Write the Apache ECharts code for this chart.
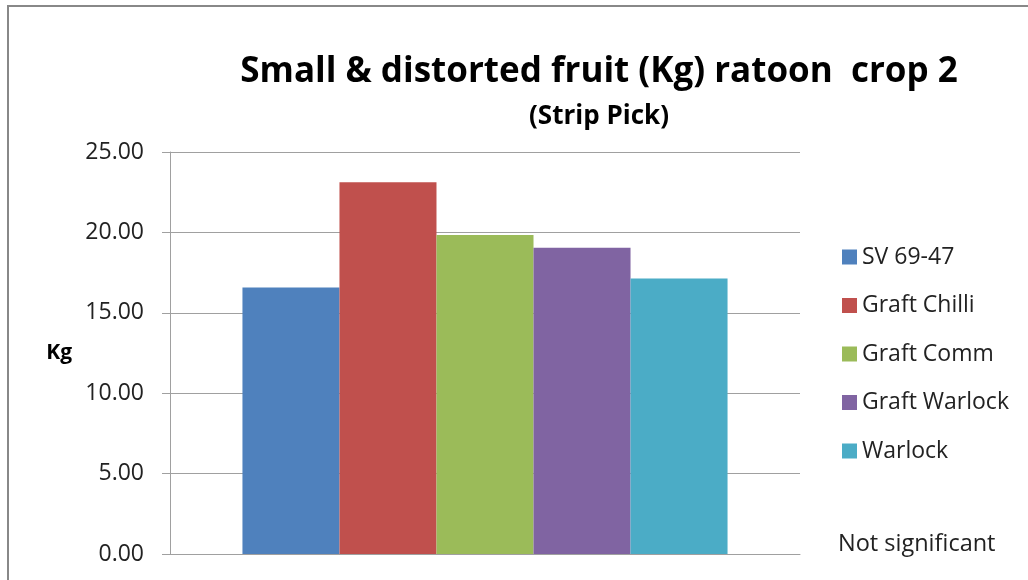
<!DOCTYPE html>
<html>
<head>
<meta charset="utf-8">
<script src="https://cdn.jsdelivr.net/npm/echarts@6/dist/echarts.min.js"></script>
<style>
  html, body { margin: 0; padding: 0; background: #fff; }
  #chart { width: 1028px; height: 580px; }
</style>
</head>
<body>
<div id="chart"></div>
<script>
const categories = ['']
const seriesNames = ['SV 69-47', 'Graft Chilli', 'Graft Comm', 'Graft Warlock', 'Warlock']
const seriesValues = [16.58, 23.12, 19.84, 19.05, 17.14]
const seriesColors = ['#4F81BD', '#C0504D', '#9BBB59', '#8064A2', '#4BACC6']
const yTicks = { min: 0, max: 25, interval: 5 }

const textFont = '"Open Sans", sans-serif'

const chart = echarts.init(document.getElementById('chart'))

chart.setOption({
  animation: false,
  backgroundColor: '#fff',
  title: [
    {
      text: 'Small & distorted fruit (Kg) ratoon  crop 2',
      left: 594,
      top: 50,
      textAlign: 'center',
      textStyle: { fontFamily: textFont, fontSize: 35, fontWeight: 'bold', color: '#000' }
    },
    {
      text: '(Strip Pick)',
      left: 594,
      top: 99,
      textAlign: 'center',
      textStyle: { fontFamily: textFont, fontSize: 26, fontWeight: 'bold', color: '#000' }
    }
  ],
  legend: {
    orient: 'vertical',
    left: 837,
    top: 239,
    itemWidth: 15,
    itemHeight: 15,
    itemGap: 22.5,
    icon: 'rect',
    selectedMode: false,
    textStyle: { fontFamily: textFont, fontSize: 23, color: '#222', lineHeight: 26 },
    data: seriesNames
  },
  grid: { left: 170, right: 228, top: 152, bottom: 26 },
  xAxis: {
    type: 'category',
    data: categories,
    axisLine: { lineStyle: { color: '#a0a0a0', width: 1 } },
    axisTick: { show: false },
    axisLabel: { show: false }
  },
  yAxis: {
    type: 'value',
    min: yTicks.min,
    max: yTicks.max,
    interval: yTicks.interval,
    name: 'Kg',
    nameLocation: 'middle',
    nameRotate: 0,
    nameGap: 98,
    nameTextStyle: { fontFamily: textFont, fontSize: 21, fontWeight: 'bold', color: '#000', padding: [10, 0, 0, 0] },
    axisLine: { show: true, lineStyle: { color: '#a0a0a0', width: 1 } },
    axisTick: { show: true, inside: false, length: 8, lineStyle: { color: '#a0a0a0' } },
    splitLine: { show: true, lineStyle: { color: '#a0a0a0', width: 1 } },
    axisLabel: {
      margin: 26,
      fontFamily: textFont,
      fontSize: 23,
      color: '#222',
      formatter: v => v.toFixed(2)
    }
  },
  series: seriesNames.map((name, i) => ({
    name,
    type: 'bar',
    barGap: '0%',
    barCategoryGap: '23%',
    itemStyle: { color: seriesColors[i] },
    data: [seriesValues[i]]
  })),
  graphic: [
    {
      type: 'rect',
      shape: { x: 8, y: 6, width: 1100, height: 700 },
      style: { fill: 'none', stroke: '#888', lineWidth: 2 },
      silent: true
    },
    {
      type: 'text',
      left: 838,
      top: 532,
      style: { text: 'Not significant', font: '23.5px ' + textFont, fill: '#222' }
    }
  ]
})
</script>
</body>
</html>
